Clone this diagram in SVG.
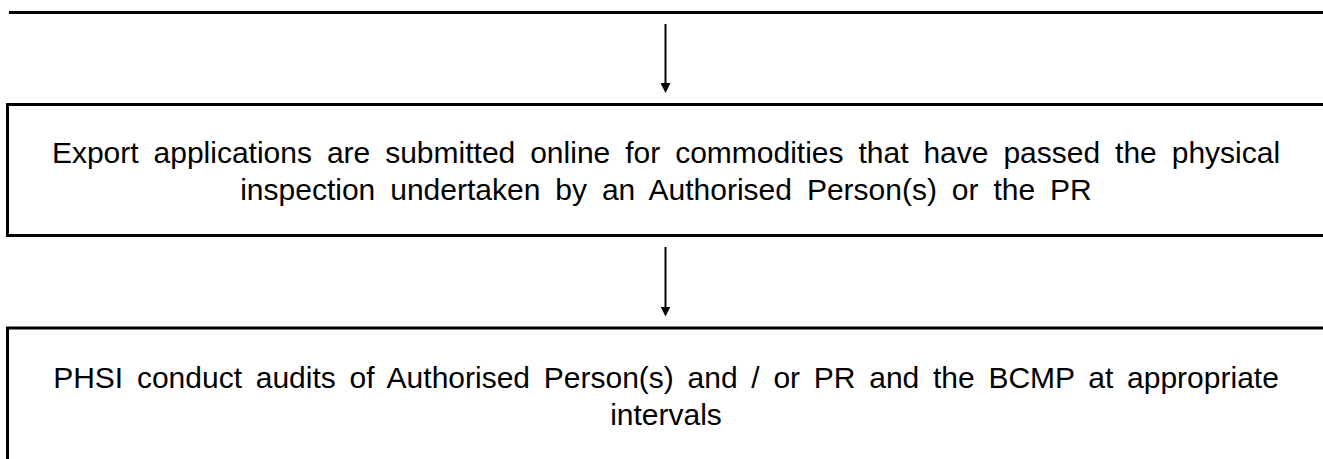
<svg xmlns="http://www.w3.org/2000/svg" width="1323" height="459" viewBox="0 0 1323 459">
  <style>
    .box { fill: #ffffff; stroke: #000000; stroke-width: 3; }
    .edge { stroke: #000000; stroke-width: 2; fill: none; }
    .label { font-family: "Liberation Sans", Arial, sans-serif; font-size: 30px; fill: #000000; text-anchor: middle; }
  </style>
  <defs>
    <marker id="arrow" viewBox="0 0 10 10" refX="1" refY="5" markerWidth="10" markerHeight="10" markerUnits="userSpaceOnUse" orient="auto">
      <path d="M0,0 L10,5 L0,10 z" fill="#000000"/>
    </marker>
  </defs>
  <rect width="1323" height="459" fill="#ffffff"/>
  <g id="node-previous">
    <line x1="9" y1="12.5" x2="1330" y2="12.5" stroke="#000000" stroke-width="3"/>
  </g>
  <g id="node-export-applications">
    <rect class="box" x="7.5" y="104.5" width="1330" height="131"/>
    <text class="label" x="666" y="163" style="word-spacing:6.6px">Export applications are submitted online for commodities that have passed the physical</text>
    <text class="label" x="666" y="200" style="word-spacing:6.6px">inspection undertaken by an Authorised Person(s) or the PR</text>
  </g>
  <g id="node-phsi-audits">
    <rect class="box" x="7.5" y="328" width="1330" height="200"/>
    <text class="label" x="666" y="388" style="word-spacing:5.4px">PHSI conduct audits of Authorised Person(s) and / or PR and the BCMP at appropriate</text>
    <text class="label" x="666" y="425">intervals</text>
  </g>
  <g id="connectors">
    <line class="edge" x1="665.5" y1="24" x2="665.5" y2="84" marker-end="url(#arrow)"/>
    <line class="edge" x1="665.5" y1="247" x2="665.5" y2="307.5" marker-end="url(#arrow)"/>
  </g>
</svg>
